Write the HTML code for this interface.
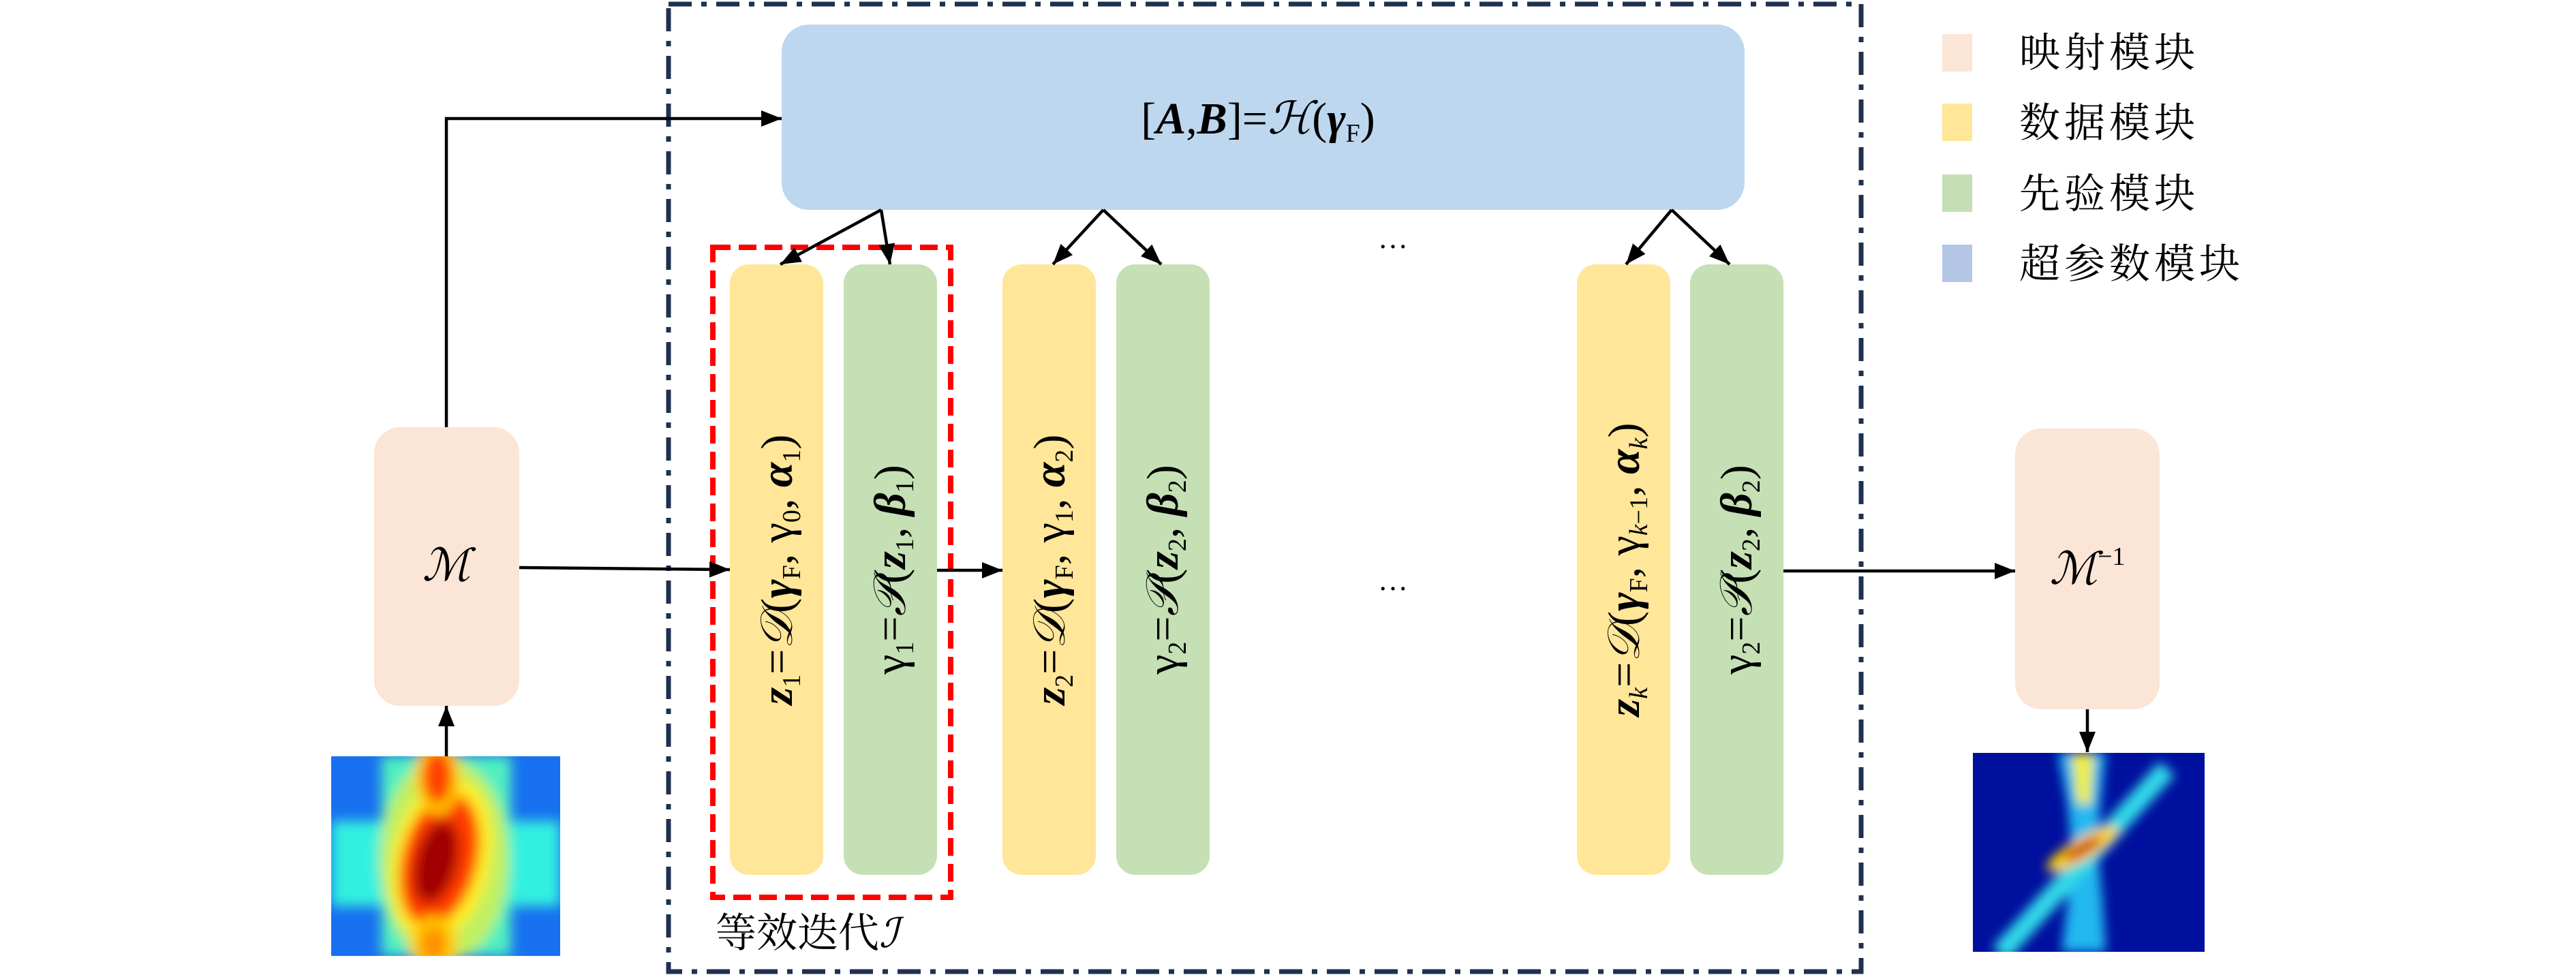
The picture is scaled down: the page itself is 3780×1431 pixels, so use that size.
<!DOCTYPE html>
<html><head><meta charset="utf-8"><style>html,body{margin:0;padding:0;background:#fff}svg{display:block}</style></head>
<body>
<svg width="3780" height="1431" viewBox="0 0 3780 1431" xmlns="http://www.w3.org/2000/svg">
<defs>
<marker id="a" viewBox="0 0 10 10" refX="10" refY="5" markerWidth="30" markerHeight="30" markerUnits="userSpaceOnUse" orient="auto"><path d="M0,1 L10,5 L0,9 z" fill="#000"/></marker>
<filter id="bl" x="-20%" y="-20%" width="140%" height="140%"><feGaussianBlur stdDeviation="9"/></filter>
<filter id="bl2" x="-20%" y="-20%" width="140%" height="140%"><feGaussianBlur stdDeviation="8"/></filter>
<clipPath id="c1"><rect x="486" y="1110" width="336" height="293"/></clipPath>
<clipPath id="c2"><rect x="2895" y="1105" width="340" height="292"/></clipPath>
</defs>

<rect x="981" y="6" width="1750" height="1420" fill="none" stroke="#1f3050" stroke-width="7" stroke-dasharray="34,14,8,14"/>

<rect x="1147" y="36" width="1413" height="272" rx="40" fill="#bdd7ee"/>
<text x="1846" y="196" font-family="Liberation Serif,serif" font-size="66" text-anchor="middle">[<tspan font-weight="bold" font-style="italic">A</tspan>,<tspan font-weight="bold" font-style="italic">B</tspan>]=<tspan font-style="italic">ℋ</tspan>(<tspan font-style="italic" font-weight="bold">γ</tspan><tspan font-size="38" dy="12">F</tspan><tspan dy="-12">)</tspan></text>

<rect x="549" y="627" width="213" height="409" rx="38" fill="#fbe5d6"/>
<text x="655" y="852" font-family="Liberation Serif,serif" font-style="italic" font-size="66" text-anchor="middle">ℳ</text>
<rect x="2957" y="629" width="212" height="412" rx="38" fill="#fbe5d6"/>
<text x="3063" y="857" font-family="Liberation Serif,serif" font-style="italic" font-size="66" text-anchor="middle">ℳ<tspan font-size="38" font-style="normal" dy="-28">−1</tspan></text>

<rect x="1071" y="388" width="137" height="896" rx="28" fill="#ffe699"/>
<rect x="1238" y="388" width="137" height="896" rx="28" fill="#c5e0b4"/>
<rect x="1471" y="388" width="137" height="896" rx="28" fill="#ffe699"/>
<rect x="1638" y="388" width="137" height="896" rx="28" fill="#c5e0b4"/>
<rect x="2314" y="388" width="137" height="896" rx="28" fill="#ffe699"/>
<rect x="2480" y="388" width="137" height="896" rx="28" fill="#c5e0b4"/>
<g font-family="Liberation Serif,serif" font-size="66" text-anchor="middle">
<text transform="translate(1162,836) rotate(-90)"><tspan font-style="italic" font-weight="bold">z</tspan><tspan font-size="38" dy="12">1</tspan><tspan dy="-12">=</tspan><tspan font-style="italic">𝒟</tspan>(<tspan font-weight="bold" font-style="italic">γ</tspan><tspan font-size="38" dy="12">F</tspan><tspan dy="-12">, γ</tspan><tspan font-size="38" dy="12">0</tspan><tspan dy="-12">, </tspan><tspan font-weight="bold" font-style="italic">α</tspan><tspan font-size="38" dy="12">1</tspan><tspan dy="-12">)</tspan></text>
<text transform="translate(1328,836) rotate(-90)">γ<tspan font-size="38" dy="12">1</tspan><tspan dy="-12">=</tspan><tspan font-style="italic">𝒫</tspan>(<tspan font-style="italic" font-weight="bold">z</tspan><tspan font-size="38" dy="12">1</tspan><tspan dy="-12">, </tspan><tspan font-weight="bold" font-style="italic">β</tspan><tspan font-size="38" dy="12">1</tspan><tspan dy="-12">)</tspan></text>
<text transform="translate(1562,836) rotate(-90)"><tspan font-style="italic" font-weight="bold">z</tspan><tspan font-size="38" dy="12">2</tspan><tspan dy="-12">=</tspan><tspan font-style="italic">𝒟</tspan>(<tspan font-weight="bold" font-style="italic">γ</tspan><tspan font-size="38" dy="12">F</tspan><tspan dy="-12">, γ</tspan><tspan font-size="38" dy="12">1</tspan><tspan dy="-12">, </tspan><tspan font-weight="bold" font-style="italic">α</tspan><tspan font-size="38" dy="12">2</tspan><tspan dy="-12">)</tspan></text>
<text transform="translate(1728,836) rotate(-90)">γ<tspan font-size="38" dy="12">2</tspan><tspan dy="-12">=</tspan><tspan font-style="italic">𝒫</tspan>(<tspan font-style="italic" font-weight="bold">z</tspan><tspan font-size="38" dy="12">2</tspan><tspan dy="-12">, </tspan><tspan font-weight="bold" font-style="italic">β</tspan><tspan font-size="38" dy="12">2</tspan><tspan dy="-12">)</tspan></text>
<text transform="translate(2405,836) rotate(-90)"><tspan font-style="italic" font-weight="bold">z</tspan><tspan font-size="38" dy="12" font-style="italic">k</tspan><tspan dy="-12">=</tspan><tspan font-style="italic">𝒟</tspan>(<tspan font-weight="bold" font-style="italic">γ</tspan><tspan font-size="38" dy="12">F</tspan><tspan dy="-12">, γ</tspan><tspan font-size="38" dy="12"><tspan font-style="italic">k</tspan>−1</tspan><tspan dy="-12">, </tspan><tspan font-weight="bold" font-style="italic">α</tspan><tspan font-size="38" dy="12" font-style="italic">k</tspan><tspan dy="-12">)</tspan></text>
<text transform="translate(2570,836) rotate(-90)">γ<tspan font-size="38" dy="12">2</tspan><tspan dy="-12">=</tspan><tspan font-style="italic">𝒫</tspan>(<tspan font-style="italic" font-weight="bold">z</tspan><tspan font-size="38" dy="12">2</tspan><tspan dy="-12">, </tspan><tspan font-weight="bold" font-style="italic">β</tspan><tspan font-size="38" dy="12">2</tspan><tspan dy="-12">)</tspan></text>
</g>

<rect x="1046" y="363" width="349" height="954" fill="none" stroke="#ff0000" stroke-width="8" stroke-dasharray="26,12"/>
<text x="1050" y="1390" font-family="Liberation Serif,'Noto Serif CJK SC',serif" font-size="60">等效迭代<tspan font-style="italic">ℐ</tspan></text>

<text x="2044" y="364" font-family="Liberation Serif,serif" font-size="44" text-anchor="middle">…</text>
<text x="2044" y="866" font-family="Liberation Serif,serif" font-size="44" text-anchor="middle">…</text>

<g stroke="#000" stroke-width="4.5" fill="none">
<polyline points="655,627 655,174 1147,174" marker-end="url(#a)"/>
<line x1="762" y1="833" x2="1071" y2="836" marker-end="url(#a)"/>
<line x1="1375" y1="837" x2="1471" y2="837" marker-end="url(#a)"/>
<line x1="2617" y1="838" x2="2957" y2="838" marker-end="url(#a)"/>
<line x1="3063" y1="1041" x2="3063" y2="1104" marker-end="url(#a)"/>
<line x1="655" y1="1110" x2="655" y2="1036" marker-end="url(#a)"/>
<line x1="1293" y1="308" x2="1145" y2="388" marker-end="url(#a)"/>
<line x1="1293" y1="308" x2="1306" y2="388" marker-end="url(#a)"/>
<line x1="1619" y1="308" x2="1545" y2="388" marker-end="url(#a)"/>
<line x1="1619" y1="308" x2="1704" y2="388" marker-end="url(#a)"/>
<line x1="2453" y1="308" x2="2386" y2="388" marker-end="url(#a)"/>
<line x1="2453" y1="308" x2="2538" y2="388" marker-end="url(#a)"/>
</g>

<g clip-path="url(#c1)">
<rect x="486" y="1110" width="336" height="293" fill="#1870f0"/>
<g filter="url(#bl)">
<rect x="486" y="1205" width="336" height="125" fill="#30f0e0"/>
<rect x="560" y="1110" width="190" height="293" fill="#50f0c0"/>
<ellipse cx="652" cy="1262" rx="95" ry="150" fill="#c0f060"/>
<ellipse cx="648" cy="1262" rx="72" ry="122" fill="#ffee20" transform="rotate(12 648 1262)"/>
<ellipse cx="645" cy="1262" rx="55" ry="100" fill="#ff3a00" transform="rotate(14 645 1262)"/>
<ellipse cx="640" cy="1265" rx="30" ry="62" fill="#a00000" transform="rotate(14 640 1265)"/>
<ellipse cx="642" cy="1140" rx="34" ry="55" fill="#ffd000"/>
<ellipse cx="642" cy="1140" rx="22" ry="40" fill="#ff4000"/>
<ellipse cx="636" cy="1385" rx="36" ry="40" fill="#ffd000"/>
<ellipse cx="636" cy="1385" rx="20" ry="26" fill="#ff9000"/>
</g>
</g>

<g clip-path="url(#c2)">
<rect x="2895" y="1105" width="340" height="292" fill="#00109e"/>
<g filter="url(#bl2)">
<path d="M3020,1105 L3090,1105 L3082,1180 L3078,1250 L3085,1320 L3090,1397 L3025,1397 L3035,1320 L3040,1250 L3034,1180 Z" fill="#20b8f0"/>
<path d="M3040,1105 L3072,1105 L3068,1180 L3048,1180 Z" fill="#f0f030"/>
<line x1="2935" y1="1400" x2="3180" y2="1128" stroke="#30d8e8" stroke-width="30"/>
<ellipse cx="3056" cy="1246" rx="60" ry="16" fill="#ffd000" transform="rotate(-30 3056 1246)"/>
<ellipse cx="3056" cy="1246" rx="32" ry="8" fill="#c80000" transform="rotate(-30 3056 1246)"/>
</g>
</g>

<rect x="2850" y="50" width="44" height="55" fill="#fbe5d6"/>
<rect x="2850" y="152" width="44" height="55" fill="#ffe699"/>
<rect x="2850" y="256" width="44" height="55" fill="#c5e0b4"/>
<rect x="2850" y="359" width="44" height="55" fill="#b4c7e7"/>
<g font-family="Liberation Serif,'Noto Serif CJK SC',serif" font-size="60" letter-spacing="6">
<text x="2963" y="98">映射模块</text>
<text x="2963" y="201">数据模块</text>
<text x="2963" y="305">先验模块</text>
<text x="2963" y="408">超参数模块</text>
</g>
</svg>
</body></html>
